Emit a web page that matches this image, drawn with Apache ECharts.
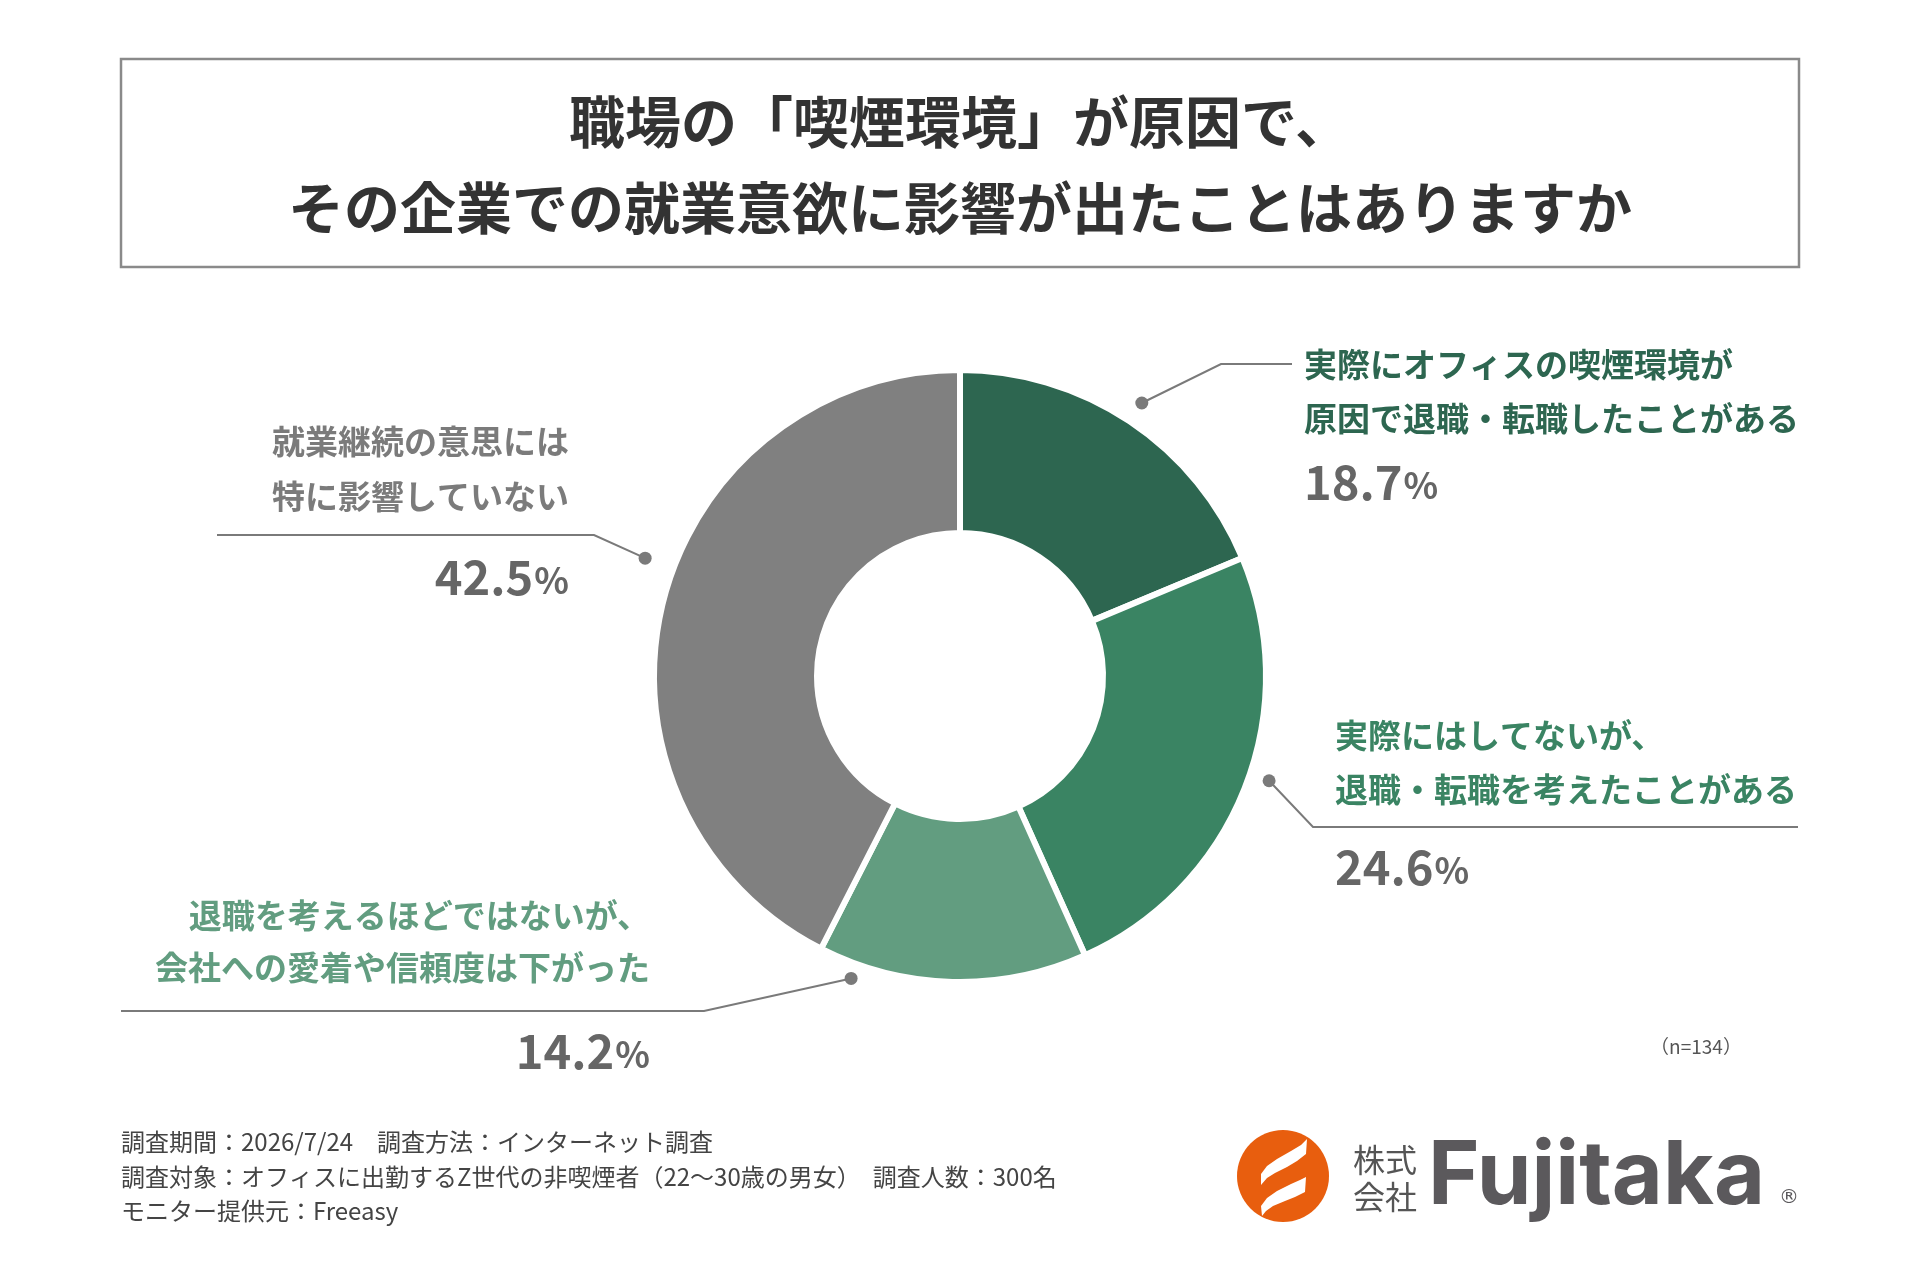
<!DOCTYPE html>
<html>
<head>
<meta charset="utf-8">
<script src="https://cdn.jsdelivr.net/npm/echarts@6/dist/echarts.min.js"></script>
<style>
  html, body { margin: 0; padding: 0; background: #ffffff; }
  #chart { width: 1920px; height: 1280px; }
</style>
</head>
<body>
<div id="chart"></div>
<script>
// ---------- data ----------
const titleLines = ['職場の「喫煙環境」が原因で、', 'その企業での就業意欲に影響が出たことはありますか'];
const categoryLine1 = ['実際にオフィスの喫煙環境が', '実際にはしてないが、', '退職を考えるほどではないが、', '就業継続の意思には'];
const categoryLine2 = ['原因で退職・転職したことがある', '退職・転職を考えたことがある', '会社への愛着や信頼度は下がった', '特に影響していない'];
const values = [18.7, 24.6, 14.2, 42.5];
const sampleNote = '（n=134）';
const footerLines = [
  '調査期間：2026/7/24　調査方法：インターネット調査',
  '調査対象：オフィスに出勤するZ世代の非喫煙者（22～30歳の男女）　調査人数：300名',
  'モニター提供元：Freeasy'
];
const brandSmall = ['株式', '会社'];
const brandName = 'Fujitaka';

// ---------- style / layout ----------
const sliceColors = ['#2d6650', '#3a8463', '#629d80', '#808080'];
const textColors = ['#2d6650', '#3a8463', '#629d80', '#7b7b7b'];
const CX = 960, CY = 676;
const FONT = '"Noto Sans CJK JP", "Noto Sans", sans-serif';
const labelLayout = [
  { shift: 0,    rf: 1.00, elbow: [1221, 364], end: [1292, 364], tx: 1304, align: 'left',  y1: 364, y2: 418, yp: 482 },
  { shift: -0.8, rf: 0.995, elbow: [1313, 827], end: [1798, 827], tx: 1335, align: 'left',  y1: 735, y2: 789, yp: 867 },
  { shift: 5.1,  rf: 0.98, elbow: [704, 1011],  end: [121, 1011], tx: 650,  align: 'right', y1: 915, y2: 967, yp: 1051 },
  { shift: 1.95, rf: 1.025, elbow: [594, 535],  end: [217, 535],  tx: 569,  align: 'right', y1: 441, y2: 496, yp: 577 }
];

const total = values.reduce((a, b) => a + b, 0);
let acc = 0;
const anchorData = values.map((v, i) => {
  const mid = acc + v / 2;
  acc += v;
  return [labelLayout[i].rf, mid + labelLayout[i].shift, i];
});

const chart = echarts.init(document.getElementById('chart'), null, { renderer: 'canvas' });

const graphics = [
  { type: 'rect', shape: { x: 121, y: 59, width: 1678, height: 208 },
    style: { fill: '#ffffff', stroke: '#8a8a8a', lineWidth: 2.5 }, z: 1 },
  { type: 'text', x: 960, y: 122, z: 2,
    style: { text: titleLines[0], font: 'bold 56px ' + FONT, fill: '#333333', align: 'center', verticalAlign: 'middle' } },
  { type: 'text', x: 960, y: 208, z: 2,
    style: { text: titleLines[1], font: 'bold 56px ' + FONT, fill: '#333333', align: 'center', verticalAlign: 'middle' } },
  { type: 'text', x: 1696, y: 1047,
    style: { text: sampleNote, font: '19px ' + FONT, fill: '#555555', align: 'center', verticalAlign: 'middle' } }
];
footerLines.forEach((t, i) => {
  graphics.push({ type: 'text', x: 121, y: 1142 + i * 34.5,
    style: { text: t, font: '24px ' + FONT, fill: '#444444', align: 'left', verticalAlign: 'middle' } });
});
// logo
graphics.push({ type: 'circle', shape: { cx: 1283, cy: 1176, r: 46 }, style: { fill: '#e85e0e' } });
graphics.push({ type: 'polygon', x: 1283, y: 1176,
  shape: { points: [[-22, 9], [-22, -2], [-16, -10], [-6, -17], [8, -25], [18, -31], [24, -37], [23, -22], [14, -15], [4, -9], [-8, -3], [-16, 2]] },
  style: { fill: '#ffffff' } });
graphics.push({ type: 'polygon', x: 1283, y: 1176,
  shape: { points: [[-21, 40], [-22, 30], [-16, 22], [-6, 15], [8, 8], [17, 4], [23, 1], [22, 16], [12, 21], [2, 25], [-10, 30], [-17, 35]] },
  style: { fill: '#ffffff' } });
graphics.push({ type: 'text', x: 1385, y: 1160,
  style: { text: brandSmall[0], font: '32px ' + FONT, fill: '#555555', align: 'center', verticalAlign: 'middle' } });
graphics.push({ type: 'text', x: 1385, y: 1197,
  style: { text: brandSmall[1], font: '32px ' + FONT, fill: '#555555', align: 'center', verticalAlign: 'middle' } });
graphics.push({ type: 'text', x: 1428, y: 1222,
  style: { text: brandName, font: '700 88px Inter, "DejaVu Sans", sans-serif', fill: '#5b595c', align: 'left', verticalAlign: 'bottom' } });
graphics.push({ type: 'text', x: 1789, y: 1198,
  style: { text: '®', font: '20px "DejaVu Sans", sans-serif', fill: '#5b595c', align: 'center', verticalAlign: 'middle' } });

const option = {
  backgroundColor: '#ffffff',
  animation: false,
  polar: { center: [CX, CY], radius: 328 },
  angleAxis: { type: 'value', min: 0, max: total, startAngle: 90, clockwise: true, show: false },
  radiusAxis: { type: 'value', min: 0, max: 1, show: false },
  graphic: graphics,
  series: [
    {
      type: 'pie',
      center: [CX, CY],
      radius: [143, 306],
      startAngle: 90,
      clockwise: true,
      silent: true,
      label: { show: false },
      labelLine: { show: false },
      emphasis: { disabled: true },
      itemStyle: { borderColor: '#ffffff', borderWidth: 6 },
      data: values.map((v, i) => ({ value: v, name: categoryLine1[i] + categoryLine2[i], itemStyle: { color: sliceColors[i] } }))
    },
    {
      type: 'custom',
      coordinateSystem: 'polar',
      silent: true,
      clip: false,
      data: anchorData,
      renderItem: function (params, api) {
        const i = api.value(2);
        const p = api.coord([api.value(0), api.value(1)]);
        const L = labelLayout[i];
        return {
          type: 'group',
          children: [
            { type: 'polyline', shape: { points: [[p[0], p[1]], L.elbow, L.end] },
              style: { stroke: '#7a7a7a', lineWidth: 2, fill: null } },
            { type: 'circle', shape: { cx: p[0], cy: p[1], r: 6.5 }, style: { fill: '#7a7a7a' } },
            { type: 'text', x: L.tx, y: L.y1,
              style: { text: categoryLine1[i], font: 'bold 33px ' + FONT, fill: textColors[i], align: L.align, verticalAlign: 'middle' } },
            { type: 'text', x: L.tx, y: L.y2,
              style: { text: categoryLine2[i], font: 'bold 33px ' + FONT, fill: textColors[i], align: L.align, verticalAlign: 'middle' } },
            { type: 'text', x: L.tx, y: L.yp,
              style: {
                text: '{n|' + values[i].toFixed(1) + '}{p|%}',
                align: L.align, verticalAlign: 'middle',
                rich: {
                  n: { font: 'bold 47px ' + FONT, fill: '#666666', verticalAlign: 'bottom' },
                  p: { font: 'bold 36px ' + FONT, fill: '#666666', verticalAlign: 'bottom', padding: [0, 0, 2, 1] }
                }
              } }
          ]
        };
      }
    }
  ]
};
chart.setOption(option);
</script>
</body>
</html>
